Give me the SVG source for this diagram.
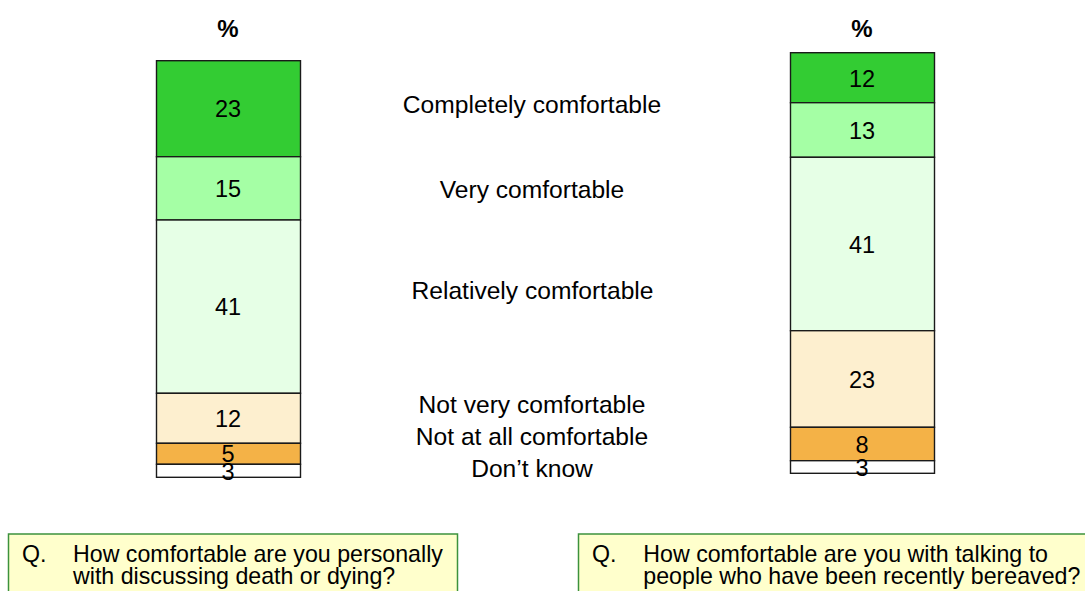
<svg xmlns="http://www.w3.org/2000/svg" width="1085" height="591" viewBox="0 0 1085 591">
<style>
text{font-family:"Liberation Sans",Arial,sans-serif;fill:#000}
.pct{font-size:24px;font-weight:bold;text-anchor:middle}
.num{font-size:23.5px;text-anchor:middle}
.lab{font-size:24.6px;text-anchor:middle}
.q{font-size:23.2px}
.seg{stroke:#1a1a1a;stroke-width:1.4}
.c1{fill:#33CC33}.c2{fill:#A5FFA5}.c3{fill:#E6FFE6}.c4{fill:#FDEFCF}.c5{fill:#F4B247}.c6{fill:#FFFFFF}
.box{fill:#FFFFCC;stroke:#3C923C;stroke-width:1.5}
</style>
<g id="left-bar">
<text class="pct" x="228" y="37">%</text>
<rect class="seg c1" x="156.5" y="60.7" width="144" height="96"/>
<rect class="seg c2" x="156.5" y="156.7" width="144" height="63.3"/>
<rect class="seg c3" x="156.5" y="220" width="144" height="173.3"/>
<rect class="seg c4" x="156.5" y="393.3" width="144" height="50"/>
<rect class="seg c5" x="156.5" y="443.3" width="144" height="21"/>
<rect class="seg c6" x="156.5" y="464.3" width="144" height="13"/>
<text class="num" x="228" y="117.3">23</text>
<text class="num" x="228" y="196.8">15</text>
<text class="num" x="228" y="315.3">41</text>
<text class="num" x="228" y="426.8">12</text>
<text class="num" x="228" y="462">5</text>
<text class="num" x="228" y="479.5">3</text>
</g>
<g id="labels">
<text class="lab" x="532" y="113.3">Completely comfortable</text>
<text class="lab" x="532" y="198.3">Very comfortable</text>
<text class="lab" x="532.5" y="299.3">Relatively comfortable</text>
<text class="lab" x="532" y="413.3">Not very comfortable</text>
<text class="lab" x="532" y="445">Not at all comfortable</text>
<text class="lab" x="532" y="476.7">Don’t know</text>
</g>
<g id="right-bar">
<text class="pct" x="862" y="37">%</text>
<rect class="seg c1" x="790.5" y="52.7" width="144" height="50"/>
<rect class="seg c2" x="790.5" y="102.7" width="144" height="54.6"/>
<rect class="seg c3" x="790.5" y="157.3" width="144" height="173.4"/>
<rect class="seg c4" x="790.5" y="330.7" width="144" height="96.6"/>
<rect class="seg c5" x="790.5" y="427.3" width="144" height="33.4"/>
<rect class="seg c6" x="790.5" y="460.7" width="144" height="12.6"/>
<text class="num" x="862" y="86.5">12</text>
<text class="num" x="862" y="138.8">13</text>
<text class="num" x="862" y="253">41</text>
<text class="num" x="862" y="387.8">23</text>
<text class="num" x="862" y="452.8">8</text>
<text class="num" x="862" y="475.8">3</text>
</g>
<g id="question-left">
<rect class="box" x="8.5" y="534" width="449" height="70"/>
<text class="q" x="22" y="561.7">Q.</text>
<text class="q" x="73" y="561.7">How comfortable are you personally</text>
<text class="q" x="73" y="584">with discussing death or dying?</text>
</g>
<g id="question-right">
<rect class="box" x="578.5" y="534" width="520" height="70"/>
<text class="q" x="592" y="561.7">Q.</text>
<text class="q" x="643.3" y="561.7">How comfortable are you with talking to</text>
<text class="q" x="643.3" y="584">people who have been recently bereaved?</text>
</g>
</svg>
